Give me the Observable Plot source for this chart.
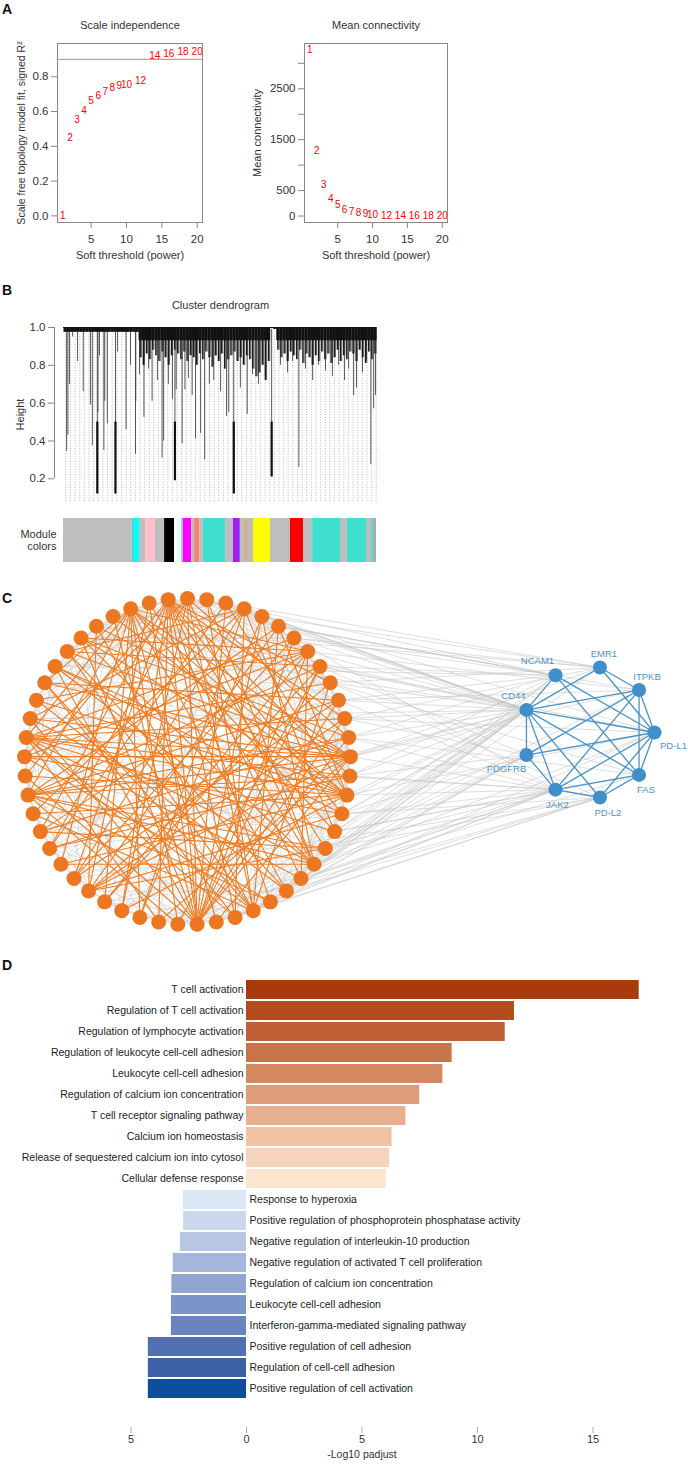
<!DOCTYPE html>
<html><head><meta charset="utf-8">
<script src="https://cdn.jsdelivr.net/npm/d3@7"></script>
<script src="https://cdn.jsdelivr.net/npm/@observablehq/plot@0.6"></script>
<style>
body{margin:0;background:#fff;}
#fig{position:relative;width:688px;height:1465px;overflow:hidden;font-family:"Liberation Sans",Arial,sans-serif;}
#fig svg{position:absolute;left:0;top:0;}
.lab{position:absolute;font-weight:bold;font-size:14px;line-height:14px;color:#111;}
</style></head><body>
<div id="fig">
<div class="lab" style="left:2px;top:2px">A</div>
<div class="lab" style="left:2px;top:283px">B</div>
<div class="lab" style="left:2px;top:591px">C</div>
<div class="lab" style="left:2px;top:958px">D</div>
</div>
<script>
// ---------------- DATA ----------------
// Panel A: soft-threshold analysis
const powers = [1,2,3,4,5,6,7,8,9,10,12,14,16,18,20];
const sftR2 = [0.00,0.447,0.55,0.607,0.66,0.693,0.716,0.737,0.745,0.751,0.779,0.923,0.932,0.942,0.942];
const meanK = [3260,1290,620,340,215,125,82,56,40,30,12,7,4,3,2];
const r2Cutoff = [0.9];

// Panel B: dendrogram (leaf position 0-100, merge height)
const dropP = [1.0,1.4,1.9,2.9,4.5,6.3,8.6,9.2,10.8,11.0,11.5,12.9,13.2,14.0,16.6,17.3,20.0,21.4,23.0,23.1,24.3,25.7,27.2,28.3,30.0,31.5,32.0,33.5,34.8,35.6,36.0,37.9,38.8,39.9,41.1,42.2,43.8,45.1,46.6,48.0,50.2,52.1,52.8,54.4,56.5,58.7,60.4,62.3,64.5,66.5,69.3,71.6,73.2,75.2,77.3,79.6,81.5,83.7,85.9,87.9,89.8,91.1,92.7,93.6,95.5,96.8,98.2,99.1,99.7];
const dropH = [0.345,0.43,0.70,0.95,0.82,0.66,0.59,0.375,0.12,0.55,0.85,0.35,0.61,0.49,0.12,0.87,0.46,0.80,0.33,0.61,0.75,0.525,0.78,0.61,0.72,0.31,0.40,0.70,0.62,0.19,0.67,0.385,0.67,0.73,0.64,0.41,0.44,0.30,0.70,0.72,0.66,0.53,0.55,0.12,0.68,0.54,0.75,0.70,0.74,0.21,0.80,0.76,0.82,0.26,0.78,0.72,0.80,0.77,0.74,0.80,0.72,0.78,0.64,0.68,0.76,0.82,0.275,0.57,0.64];
const fringeDepth = [0.975,0.975,0.975,0.975,0.975,0.975,0.975,0.975,0.975,0.975,0.975,0.975,0.975,0.975,0.975,0.975,0.975,0.975,0.975,0.975,0.975,0.975,0.975,0.975,
0.84,0.80,0.86,0.83,0.88,0.85,
0.82,0.87,0.84,0.80,0.85,0.88,
0.86,0.83,0.87,0.82,0.85,0.84,
0.80,0.86,0.83,0.87,0.84,0.79,
0.85,0.82,0.86,0.78,0.83,0.85,
0.87,0.82,0.84,0.80,0.85,0.83,
0.78,0.74,0.76,0.80,0.72,0.82,
1.0,0.99,
0.88,0.84,0.86,0.82,0.87,0.85,
0.83,0.88,0.81,0.86,0.84,0.80,
0.85,0.82,0.87,0.83,0.86,0.81,
0.84,0.88,0.82,0.85,0.83,0.87,
0.86,0.82,0.88,0.84,0.81,0.87,
0.83,0.86];
const moduleNames = ["grey","turquoise","cyan","grey","pink","grey","black","white","lightcyan","grey","magenta","grey","salmon","grey","turquoise","grey","purple","grey","tan","grey","yellow","grey","red","grey","turquoise","grey","turquoise","grey","turquoise","darkgrey"];
const moduleWidths = [22,0.7,1.6,1.9,3.2,2.9,3.2,0.9,1.3,0.6,2.6,1.0,1.6,1.2,7.1,2.5,2.2,1.3,1.3,1.6,5.4,6.4,4.2,2.9,8.9,2.2,6.1,1.6,0.6,1.0];

// Panel C: network
const orangeCount = 53;
const blueNames = ["PD-L1","FAS","PD-L2","JAK2","PDGFRB","CD44","NCAM1","EMR1","ITPKB"];
const orangeEdges = "52-14 52-16 52-18 52-20 52-22 52-24 52-26 52-28 52-30 52-33 52-36 52-39 52-9 52-11 50-13 50-15 50-17 50-21 50-25 50-27 50-29 50-31 50-34 50-38 50-41 50-44 0-12 0-19 0-23 0-26 0-30 0-35 0-40 3-17 3-24 3-29 3-33 3-37 3-42 3-46 7-20 7-26 7-31 7-36 7-40 7-43 7-47 7-50 13-32 13-35 13-38 13-40 13-41 13-42 13-44 13-46 13-48 13-28 13-25 15-30 15-34 15-37 15-39 15-41 15-43 15-45 15-47 15-49 15-2 15-5 26-2 26-4 26-6 26-8 26-10 26-11 26-12 26-39 26-42 26-45 26-47 26-49 26-51 23-1 23-5 23-9 23-37 23-41 23-44 23-46 23-48 19-34 19-38 19-42 19-45 19-47 19-51 19-1 19-4 41-6 41-9 41-11 41-14 41-17 41-20 41-24 41-28 38-5 38-8 38-10 38-12 38-14 38-18 38-22 38-27 32-5 32-9 32-11 32-16 32-18 32-48 32-51 44-10 45-16 46-21 33-6 36-12 29-4 31-8 35-2 27-8 24-44 22-40 21-43 18-36 16-40 14-35 12-47 10-33 8-46";
const grayEdges = "0-5 0-9 0-16 0-21 0-33 0-45 1-6 1-11 1-17 1-28 1-38 1-47 2-7 2-13 2-20 2-29 2-40 2-48 3-8 3-14 3-21 3-31 3-44 4-9 4-15 4-23 4-34 4-49 5-10 5-18 5-27 5-36 5-43 6-12 6-19 6-30 6-39 6-47 7-13 7-22 7-34 7-45 8-14 8-24 8-37 8-49 9-16 9-26 9-35 9-44 10-17 10-27 10-40 10-50 11-19 11-30 11-42 12-20 12-32 12-44 13-21 13-30 13-50 14-22 14-33 14-46 15-24 15-36 16-25 16-37 16-48 17-27 17-39 17-51 18-28 18-41 19-29 19-43 20-31 20-45 21-32 21-48 22-34 22-50 23-35 24-37 25-38 25-51 26-36 27-41 28-42 28-52 29-44 30-46 31-47 32-43 33-48 34-49 35-50 36-51 37-52 38-45 39-49 40-50 41-51 42-52 43-0 44-1 45-3 46-5 47-6 48-8 49-10 50-11 51-13 52-12 0-3 1-4 2-5 3-6 4-7 5-8 6-9 7-10 8-11 9-12 10-13 11-14 12-15 13-16 14-17 15-18 16-19 17-20 18-21 19-22 20-23 21-24 22-25 23-26 24-27 25-28 26-29 27-30 28-31 29-32 30-33 31-34 32-35 33-36 34-37 35-38 36-39 37-40 38-41 39-42 40-43 41-44 42-45 43-46 44-47 45-48 46-49 47-50 48-51 49-52 50-0 51-1 52-2 0-7 4-11 8-15 12-19 16-23 20-27 24-31 28-35 32-39 36-43 40-47 44-51 48-2 52-6 2-9 6-13 10-17 14-21 18-25 22-29 26-33 30-37 34-41 38-45 42-49 46-0 50-4";
const crossEdges = {
  "CD44": [1,2,3,4,5,6,7,8,9,10,11,12,13,14,15,16,17,18,19,20,21,22,24,26,30,36,42,47,49],
  "NCAM1": [3,5,6,8,10,12,14,17,20,23,45,51],
  "EMR1": [2,4,6,9,11,13,16,22,48],
  "ITPKB": [5,7,10,13,18,21],
  "PD-L1": [4,8,11,15,19,24],
  "FAS": [9,12,17,20],
  "PD-L2": [9,13,16,18,21,23,25,28,33],
  "JAK2": [6,10,12,14,15,17,19,20,22,24,27,31,35,40],
  "PDGFRB": [8,11,14,16,18,20,23,26]
};
const blueEdges = [["CD44","NCAM1"],["CD44","PDGFRB"],["CD44","JAK2"],["CD44","EMR1"],["CD44","ITPKB"],["CD44","PD-L1"],["CD44","FAS"],["CD44","PD-L2"],["NCAM1","PD-L1"],["NCAM1","FAS"],["EMR1","ITPKB"],["EMR1","PD-L1"],["ITPKB","PDGFRB"],["ITPKB","JAK2"],["ITPKB","PD-L1"],["ITPKB","FAS"],["PD-L1","PDGFRB"],["PD-L1","JAK2"],["PD-L1","PD-L2"],["PD-L1","FAS"],["FAS","PD-L2"],["FAS","JAK2"],["JAK2","PDGFRB"],["JAK2","PD-L2"]];

// Panel D: enrichment
const upTerms = ["T cell activation","Regulation of T cell activation","Regulation of lymphocyte activation","Regulation of leukocyte cell-cell adhesion","Leukocyte cell-cell adhesion","Regulation of calcium ion concentration","T cell receptor signaling pathway","Calcium ion homeostasis","Release of sequestered calcium ion into cytosol","Cellular defense response"];
const upValues = [17.0,11.6,11.2,8.9,8.5,7.5,6.9,6.3,6.2,6.05];
const downTerms = ["Response to hyperoxia","Positive regulation of phosphoprotein phosphatase activity","Negative regulation of interleukin-10 production","Negative regulation of activated T cell proliferation","Regulation of calcium ion concentration","Leukocyte cell-cell adhesion","Interferon-gamma-mediated signaling pathway","Positive regulation of cell adhesion","Regulation of cell-cell adhesion","Positive regulation of cell activation"];
const downValues = [-2.73,-2.72,-2.86,-3.17,-3.23,-3.25,-3.25,-4.25,-4.25,-4.25];
const dTicks = [-5,0,5,10,15];

// ---------------- STYLES ----------------
const W = 688, H = 1465;
const FONT = "'Liberation Sans', Arial, sans-serif";
const baseStyle = {background: "transparent", fontFamily: FONT, fontSize: "11px", color: "#222", overflow: "visible"};
const upPalette = ["#a83a0c","#b44b1f","#c06036","#c9734b","#d48862","#de9c78","#e8ae8e","#f0c3a6","#f6d3bb","#fde4cf"];
const downPalette = ["#dde8f5","#cad8ed","#b8c8e4","#a4b6db","#90a5d1","#7c94c7","#6a84bf","#5270b1","#3d60a7","#0e4e9d"];
const rColors = {grey:"#bebebe",turquoise:"#40e0d0",cyan:"#00ffff",pink:"#ffc0cb",black:"#000000",white:"#ffffff",lightcyan:"#e0ffff",magenta:"#ff00ff",salmon:"#fa8072",purple:"#a020f0",tan:"#d2b48c",yellow:"#ffff00",red:"#ff0000",darkgrey:"#a9a9a9"};
const layout = {orange: {cx: 0, cy: 0, r: 1, start: -90}, blue: {cx: 2.46, cy: -0.178, r: 0.405, start: 0}};
const blueLabelOffset = {"NCAM1":[-18,-14],"EMR1":[4,-14],"ITPKB":[8,-13],"CD44":[-13,-14],"PD-L1":[19,13],"PDGFRB":[-20,14],"FAS":[7,15],"JAK2":[2,15],"PD-L2":[8,15]};

const fig = document.getElementById("fig");
function add(p){ fig.appendChild(p); }

// ---------------- PANEL A ----------------
const sft = powers.map((p,i) => ({power: p, r2: sftR2[i], k: meanK[i]}));
const axisStroke = "#888", axisText = "#333";

add(Plot.plot({
  width: W, height: H, style: baseStyle,
  marginLeft: 57, marginRight: 486, marginTop: 43, marginBottom: 1243,
  x: {domain: [0.24, 20.76]},
  y: {domain: [-0.038, 0.991]},
  marks: [
    Plot.frame({stroke: axisStroke}),
    Plot.ruleY(r2Cutoff, {stroke: "#ff6b6b", strokeWidth: 1}),
    Plot.text(sft, {x: "power", y: "r2", text: d => String(d.power), fill: "#ff0000", fontSize: 10}),
    Plot.axisX({ticks: [5,10,15,20], tickSize: 6, tickPadding: 6, label: null, stroke: axisStroke, fill: axisText, fontSize: 11.5}),
    Plot.axisY({ticks: [0,0.2,0.4,0.6,0.8], tickFormat: ".1f", tickSize: 6, tickPadding: 3, label: null, stroke: axisStroke, fill: axisText, fontSize: 11.5}),
    Plot.text(["Scale independence"], {text: d => d, frameAnchor: "top", dy: -22, fill: "#333"}),
    Plot.text(["Soft threshold (power)"], {text: d => d, frameAnchor: "bottom", dy: 36, fill: "#333"}),
    Plot.text(["Scale free topology model fit, signed R²"], {text: d => d, frameAnchor: "left", textAnchor: "middle", dx: -36, rotate: -90, fontSize: 10.5, fill: "#333"})
  ]
}));

add(Plot.plot({
  width: W, height: H, style: baseStyle,
  marginLeft: 304, marginRight: 241, marginTop: 43, marginBottom: 1243,
  x: {domain: [0.24, 20.76]},
  y: {domain: [-127, 3390]},
  marks: [
    Plot.frame({stroke: axisStroke}),
    Plot.text(sft, {x: "power", y: "k", text: d => String(d.power), fill: "#ff0000", fontSize: 10}),
    Plot.axisX({ticks: [5,10,15,20], tickSize: 6, tickPadding: 6, label: null, stroke: axisStroke, fill: axisText, fontSize: 11.5}),
    Plot.axisY({ticks: [0,500,1000,1500,2000,2500,3000], tickFormat: d => (d === 0 || d === 500 || d === 1500 || d === 2500) ? String(d) : "", tickSize: 6, tickPadding: 3, label: null, stroke: axisStroke, fill: axisText, fontSize: 11.5}),
    Plot.text(["Mean connectivity"], {text: d => d, frameAnchor: "top", dy: -22, fill: "#333"}),
    Plot.text(["Soft threshold (power)"], {text: d => d, frameAnchor: "bottom", dy: 36, fill: "#333"}),
    Plot.text(["Mean connectivity"], {text: d => d, frameAnchor: "left", textAnchor: "middle", dx: -47, rotate: -90, fill: "#333"})
  ]
}));

// ---------------- PANEL B ----------------
const drops = dropP.map((p,i) => ({p, h: dropH[i]}));
const fringe = fringeDepth.map((d,i) => ({p: i + 0.5, depth: d, core: Math.max(d, 0.93)}));
const guides = d3.range(0.75, 100, 1.48);
add(Plot.plot({
  width: W, height: H, style: baseStyle,
  marginLeft: 54, marginRight: 312, marginTop: 327, marginBottom: 964,
  x: {domain: [0, 100], range: [63, 376], axis: null},
  y: {domain: [0.08, 1.0]},
  marks: [
    Plot.ruleX(guides, {y1: 0.08, y2: 0.965, stroke: "#9a9a9a", strokeDasharray: "1,1.6", strokeWidth: 0.7}),
    Plot.ruleX(drops, {x: "p", y1: 0.99, y2: "h", stroke: "#444", strokeWidth: 0.9}),
    Plot.ruleX(drops.filter(d => d.h <= 0.21), {x: "p", y1: 0.5, y2: "h", stroke: "#111", strokeWidth: 2.2}),
    Plot.ruleX(fringe, {x: "p", y1: 1.0, y2: "depth", stroke: "#1a1a1a", strokeWidth: 1.4}),
    Plot.ruleX(fringe, {x: "p", dx: 1.2, y1: 1.0, y2: "depth", stroke: "#333", strokeWidth: 0.8}),
    Plot.ruleX(fringe, {x: "p", y1: 1.0, y2: "core", stroke: "#111", strokeWidth: 3.2}),
    Plot.ruleY([1.0], {x1: 0, x2: 100, stroke: "#111", strokeWidth: 1.2}),
    Plot.ruleX([0], {y1: 0.2, y2: 1.0, dx: -9, stroke: axisStroke}),
    Plot.axisY({ticks: [0.2,0.4,0.6,0.8,1.0], tickFormat: ".1f", tickSize: 6, tickPadding: 3, label: null, stroke: axisStroke, fill: axisText, fontSize: 11.5}),
    Plot.text(["Cluster dendrogram"], {text: d => d, frameAnchor: "top", dx: 5, dy: -26, fill: "#333"}),
    Plot.text(["Height"], {text: d => d, frameAnchor: "left", textAnchor: "middle", dx: -34, rotate: -90, fill: "#333"})
  ]
}));

let cum = 0;
const modules = moduleNames.map((m,i) => { const o = {x1: cum, x2: cum + moduleWidths[i], color: rColors[m]}; cum += moduleWidths[i]; return o; });
add(Plot.plot({
  width: W, height: H, style: baseStyle,
  marginLeft: 63, marginRight: 312, marginTop: 518, marginBottom: 903,
  x: {domain: [0, 100], axis: null},
  y: {domain: [0, 1], axis: null},
  color: {type: "identity"},
  marks: [
    Plot.rect(modules, {x1: "x1", x2: "x2", y1: 0, y2: 1, fill: "color"}),
    Plot.text(["Module\ncolors"], {text: d => d, frameAnchor: "left", dx: -7, textAnchor: "end", lineHeight: 1.1, fill: "#333"})
  ]
}));

// ---------------- PANEL C ----------------
function ringPos(i, n, g) { const a = (g.start + i * 360 / n) * Math.PI / 180; return [g.cx + g.r * Math.cos(a), g.cy + g.r * Math.sin(a)]; }
const orangeNodes = d3.range(orangeCount).map(i => { const [x,y] = ringPos(i, orangeCount, layout.orange); return {id: i, x, y}; });
const blueNodes = blueNames.map((name,i) => { const [x,y] = ringPos(i, blueNames.length, layout.blue); return {id: name, x, y}; });
const blueById = Object.fromEntries(blueNodes.map(d => [d.id, d]));
const parsePairs = s => s.split(" ").map(t => t.split("-").map(Number));
const link = (a, b) => ({x1: a.x, y1: a.y, x2: b.x, y2: b.y});
const grayLinks = parsePairs(grayEdges).map(([a,b]) => link(orangeNodes[a], orangeNodes[b]));
const crossLinks = Object.entries(crossEdges).flatMap(([name, list]) => list.map(i => link(orangeNodes[i], blueById[name])));
const orangeLinks = parsePairs(orangeEdges).map(([a,b]) => link(orangeNodes[a], orangeNodes[b]));
const blueLinks = blueEdges.map(([a,b]) => link(blueById[a], blueById[b]));

const netMarks = [
  Plot.link(grayLinks, {x1: "x1", y1: "y1", x2: "x2", y2: "y2", stroke: "#d2d2d2", strokeWidth: 0.7}),
  Plot.link(crossLinks, {x1: "x1", y1: "y1", x2: "x2", y2: "y2", stroke: "#c8c8c8", strokeWidth: 0.7, strokeOpacity: 0.85}),
  Plot.link(orangeLinks, {x1: "x1", y1: "y1", x2: "x2", y2: "y2", stroke: "#ee7d24", strokeWidth: 1.1}),
  Plot.link(blueLinks, {x1: "x1", y1: "y1", x2: "x2", y2: "y2", stroke: "#4a93cb", strokeWidth: 1.3}),
  Plot.dot([layout.orange], {x: "cx", y: "cy", r: 4, fill: "white"}),
  Plot.dot(orangeNodes, {x: "x", y: "y", r: 7.5, fill: "#ed7620"}),
  Plot.dot(blueNodes, {x: "x", y: "y", r: 7, fill: "#3f8fca"})
];
for (const n of blueNodes) {
  const [dx, dy] = blueLabelOffset[n.id];
  netMarks.push(Plot.text([n], {x: "x", y: "y", text: "id", dx, dy, fill: "#4a93cb", fontSize: 9.5}));
}
add(Plot.plot({
  width: W, height: H, style: baseStyle,
  x: {domain: [-1, 1], range: [24, 350], axis: null},
  y: {domain: [-1, 1], range: [598, 924], axis: null},
  marks: netMarks
}));

// ---------------- PANEL D ----------------
const enrich = [
  ...upTerms.map((t,i) => ({rank: i, term: t, value: upValues[i], color: upPalette[i], side: "up"})),
  ...downTerms.map((t,i) => ({rank: 10 + i, term: t, value: downValues[i], color: downPalette[i], side: "down"}))
];
add(Plot.plot({
  width: W, height: H, style: baseStyle,
  marginTop: 960, marginBottom: 38, marginLeft: 100, marginRight: 60,
  x: {domain: [-5, 15], range: [130.5, 592.5]},
  y: {domain: d3.range(20), range: [970.7, 1408], padding: 0.1, axis: null},
  color: {type: "identity"},
  marks: [
    Plot.barX(enrich, {x: "value", y: "rank", fill: "color"}),
    Plot.text(enrich.filter(d => d.side === "up"), {x: 0, y: "rank", text: "term", textAnchor: "end", dx: -3, fontSize: 10.5, fill: "#222"}),
    Plot.text(enrich.filter(d => d.side === "down"), {x: 0, y: "rank", text: "term", textAnchor: "start", dx: 3, fontSize: 10.5, fill: "#222"}),
    Plot.axisX({ticks: dTicks, tickFormat: d => String(Math.abs(d)), tickSize: 6, tickPadding: 2, label: null, stroke: "#aaa", fill: "#333"}),
    Plot.text(["-Log10 padjust"], {text: d => d, x: 5, frameAnchor: "bottom", dy: 30, fontSize: 10.5, fill: "#333"})
  ]
}));
</script>
</body></html>
